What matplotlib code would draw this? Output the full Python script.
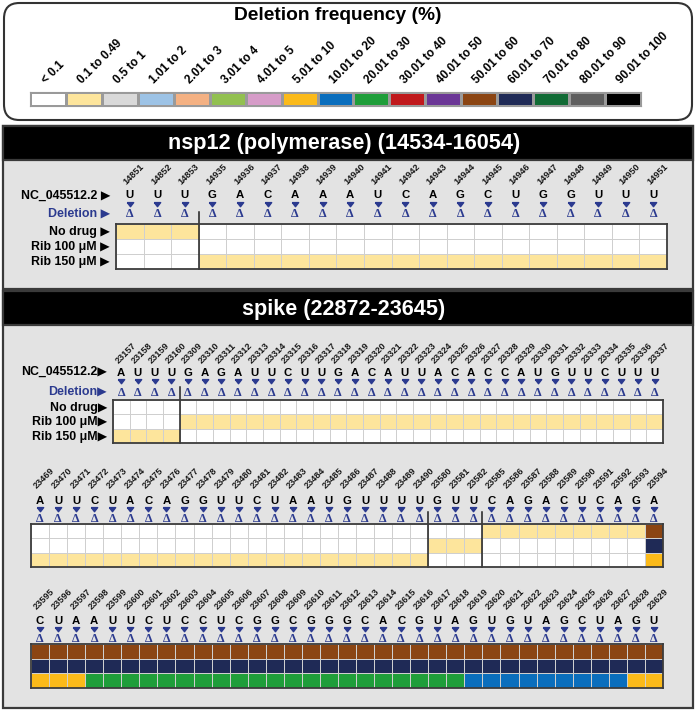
import matplotlib
matplotlib.use('Agg')
import matplotlib.pyplot as plt
from matplotlib.patches import FancyBboxPatch, Rectangle
from matplotlib.colors import ListedColormap, BoundaryNorm
from matplotlib.transforms import blended_transform_factory, ScaledTranslation
import numpy as np

# ---------------- data ----------------
legend_labels = ["< 0.1", "0.1 to 0.49", "0.5 to 1", "1.01 to 2", "2.01 to 3", "3.01 to 4",
                 "4.01 to 5", "5.01 to 10", "10.01 to 20", "20.01 to 30", "30.01 to 40",
                 "40.01 to 50", "50.01 to 60", "60.01 to 70", "70.01 to 80", "80.01 to 90",
                 "90.01 to 100"]
legend_colors = ["#FFFFFF", "#FDE59C", "#D9D9D9", "#9DC3E6", "#F4B183", "#92C050",
                 "#D69CC8", "#FBBA1A", "#0A6EBD", "#1F9E3A", "#C0191C", "#6B3696",
                 "#8B4513", "#1F2A56", "#116B35", "#5F5F5F", "#000000"]
row_names = ["No drug", "Rib 100 \u03bcM", "Rib 150 \u03bcM"]

nsp12_pos = [14851, 14852, 14853, 14935, 14936, 14937, 14938, 14939, 14940, 14941,
             14942, 14943, 14944, 14945, 14946, 14947, 14948, 14949, 14950, 14951]
nsp12_seq = "UUUGACAAAUCAGCUGGUUU"
nsp12_nodrug = [1, 1, 1, 0, 0, 0, 0, 0, 0, 0, 0, 0, 0, 0, 0, 0, 0, 0, 0, 0]
nsp12_rib100 = [0, 0, 0, 0, 0, 0, 0, 0, 0, 0, 0, 0, 0, 0, 0, 0, 0, 0, 0, 0]
nsp12_rib150 = [0, 0, 0, 1, 1, 1, 1, 1, 1, 1, 1, 1, 1, 1, 1, 1, 1, 1, 1, 1]

spike1_pos = [23157, 23158, 23159, 23160, 23309, 23310, 23311, 23312, 23313, 23314,
              23315, 23316, 23317, 23318, 23319, 23320, 23321, 23322, 23323, 23324,
              23325, 23326, 23327, 23328, 23329, 23330, 23331, 23332, 23333, 23334,
              23335, 23336, 23337]
spike1_seq = "AUUUGAGAUUCUUGACAUUACACCAUGUUCUUU"
spike1_nodrug = [0, 0, 0, 0, 0, 0, 0, 0, 0, 0, 0, 0, 0, 0, 0, 0, 0, 0, 0, 0, 0, 0, 0, 0, 0, 0, 0, 0, 0, 0, 0, 0, 0]
spike1_rib100 = [0, 0, 0, 0, 1, 1, 1, 1, 1, 1, 1, 1, 1, 1, 1, 1, 1, 1, 1, 1, 1, 1, 1, 1, 1, 1, 1, 1, 1, 1, 1, 1, 1]
spike1_rib150 = [1, 1, 1, 1, 0, 0, 0, 0, 0, 0, 0, 0, 0, 0, 0, 0, 0, 0, 0, 0, 0, 0, 0, 0, 0, 0, 0, 0, 0, 0, 0, 0, 0]

spike2_pos = [23469, 23470, 23471, 23472, 23473, 23474, 23475, 23476, 23477, 23478,
              23479, 23480, 23481, 23482, 23483, 23484, 23485, 23486, 23487, 23488,
              23489, 23490, 23580, 23581, 23582, 23585, 23586, 23587, 23588, 23589,
              23590, 23591, 23592, 23593, 23594]
spike2_seq = "AUUCUACAGGUUCUAAUGUUUUGUUCAGACUCAGA"
spike2_nodrug = [0, 0, 0, 0, 0, 0, 0, 0, 0, 0, 0, 0, 0, 0, 0, 0, 0, 0, 0, 0, 0, 0,
                 0, 0, 0, 1, 1, 1, 1, 1, 1, 1, 1, 1, 12]
spike2_rib100 = [0, 0, 0, 0, 0, 0, 0, 0, 0, 0, 0, 0, 0, 0, 0, 0, 0, 0, 0, 0, 0, 0,
                 1, 1, 1, 0, 0, 0, 0, 0, 0, 0, 0, 0, 13]
spike2_rib150 = [1, 1, 1, 1, 1, 1, 1, 1, 1, 1, 1, 1, 1, 1, 1, 1, 1, 1, 1, 1, 1, 1,
                 0, 0, 0, 0, 0, 0, 0, 0, 0, 0, 0, 0, 7]

spike3_pos = [23595, 23596, 23597, 23598, 23599, 23600, 23601, 23602, 23603, 23604,
              23605, 23606, 23607, 23608, 23609, 23610, 23611, 23612, 23613, 23614,
              23615, 23616, 23617, 23618, 23619, 23620, 23621, 23622, 23623, 23624,
              23625, 23626, 23627, 23628, 23629]
spike3_seq = "CUAAUUCUCCUCGGCGGGCACGUAGUGUAGCUAGU"
spike3_nodrug = [12, 12, 12, 12, 12, 12, 12, 12, 12, 12, 12, 12, 12, 12, 12, 12, 12, 12,
                 12, 12, 12, 12, 12, 12, 12, 12, 12, 12, 12, 12, 12, 12, 12, 12, 12]
spike3_rib100 = [13, 13, 13, 13, 13, 13, 13, 13, 13, 13, 13, 13, 13, 13, 13, 13, 13, 13,
                 13, 13, 13, 13, 13, 13, 13, 13, 13, 13, 13, 13, 13, 13, 13, 13, 13]
spike3_rib150 = [7, 7, 7, 9, 9, 9, 9, 9, 9, 9, 9, 9, 9, 9, 9, 9, 9, 9, 9, 9, 9, 9, 9, 9,
                 8, 8, 8, 8, 8, 8, 8, 8, 8, 7, 7]

# ---------------- setup ----------------
W, H = 696, 710
fig = plt.figure(figsize=(W / 100, H / 100), dpi=100)
fig.patch.set_facecolor('white')
SANS = ['Liberation Sans', 'DejaVu Sans']
BLUE = '#2B3A8F'
cmap = ListedColormap(legend_colors)
norm = BoundaryNorm(np.arange(-0.5, len(legend_colors) + 0.5), len(legend_colors))
TRI = [(-1, 0.6), (1, 0.6), (0, -0.7), (-1, 0.6)]


def fy(y):
    return 1 - y / H


def axrect(x0, y0, x1, y1):
    return [x0 / W, 1 - y1 / H, (x1 - x0) / W, (y1 - y0) / H]


# ---------------- legend ----------------
fig.patches.append(FancyBboxPatch((4 / W, fy(120)), 688 / W, 117 / H,
                                  boxstyle='round,pad=0,rounding_size=0.022',
                                  transform=fig.transFigure, fc='white', ec='#333333', lw=1.5,
                                  zorder=-10))
fig.text(338 / W, fy(15), 'Deletion frequency (%)', ha='center', va='center',
         fontsize=13.8, weight='bold', family=SANS)
lax = fig.add_axes(axrect(30, 92, 641, 106))
lax.pcolormesh(np.arange(len(legend_colors) + 1), [0, 1],
               np.arange(len(legend_colors))[None, :], cmap=cmap, norm=norm,
               edgecolors='#9a9a9a', linewidth=0.8)
lax.set_xlim(0, len(legend_colors)); lax.set_ylim(0, 1)
lax.set_xticks([]); lax.set_yticks([])
for s in lax.spines.values():
    s.set_color('#9a9a9a'); s.set_linewidth(0.8)
ltrans = blended_transform_factory(lax.transData, fig.transFigure) + \
    ScaledTranslation(-2 / 100, 0, fig.dpi_scale_trans)
for i, lab in enumerate(legend_labels):
    lax.text(i + 0.5, fy(84), lab, transform=ltrans, rotation=45, rotation_mode='anchor',
             ha='left', va='baseline', fontsize=8.5, weight='bold', family=SANS, clip_on=False)

# ---------------- panels ----------------
def panel(y0, y1, yh, title, ty):
    fig.patches.append(Rectangle((3 / W, fy(y1)), 690 / W, (y1 - y0) / H,
                                 transform=fig.transFigure, fc='#E3E3E3', ec='#3a3a3a', lw=1.6,
                                 zorder=-10))
    fig.patches.append(Rectangle((3 / W, fy(yh)), 690 / W, (yh - y0) / H,
                                 transform=fig.transFigure, fc='black', ec='#3a3a3a', lw=1.6,
                                 zorder=-9))
    fig.text(344 / W, fy(ty), title, color='white', ha='center', va='center',
             fontsize=15.6, weight='bold', family=SANS)


panel(126, 289, 160, 'nsp12 (polymerase) (14534-16054)', 144)
panel(291, 708, 325, 'spike (22872-23645)', 309)


def grid(rect, positions, seq, rows, dividers, y_letter, y_tri, y_delta, y_pos, div_top,
         pos_off=-3):
    x0, y0, x1, y1 = rect
    ax = fig.add_axes(axrect(x0, y0, x1, y1))
    ax.patch.set_alpha(0)
    data = np.array(rows)
    n = data.shape[1]
    ax.pcolormesh(np.arange(n + 1), np.arange(data.shape[0] + 1), data, cmap=cmap, norm=norm,
                  edgecolors='#cfcfcf', linewidth=0.6)
    ax.set_xlim(0, n); ax.set_ylim(data.shape[0], 0)
    ax.set_xticks([]); ax.set_yticks([])
    for s in ax.spines.values():
        s.set_color('#3c3c3c'); s.set_linewidth(1.3)
    tr = blended_transform_factory(ax.transData, fig.transFigure)
    trp = tr + ScaledTranslation(pos_off / 100, 0, fig.dpi_scale_trans)
    xs = np.arange(n) + 0.5
    # small blue pointer triangles
    ax.plot(xs, [fy(y_tri)] * n, transform=tr, ls='none', marker=TRI, ms=4.6,
            color=BLUE, mec=BLUE, clip_on=False)
    for i, (p, c) in enumerate(zip(positions, seq)):
        # y values are baselines (bottom of glyphs) in pixels
        ax.text(xs[i], fy(y_letter), c, transform=tr, ha='center', va='baseline',
                fontsize=8.2, weight='bold', family=SANS, clip_on=False)
        ax.text(xs[i], fy(y_delta), '\u0394', transform=tr, ha='center', va='baseline',
                fontsize=8.8, weight='bold', color=BLUE, family='Liberation Serif', clip_on=False)
        ax.text(xs[i], fy(y_pos), str(p), transform=trp, rotation=45, rotation_mode='anchor',
                ha='left', va='baseline', fontsize=6.6, weight='bold', color='#1a1a1a',
                family=SANS, clip_on=False)
    for d in dividers:
        ax.plot([d, d], [fy(div_top), fy(y1)], transform=tr, color='#1e1e1e', lw=1.1,
                clip_on=False)
    return ax


def row_labels(xr, ys, sep):
    names = ['NC_045512.2', 'Deletion'] + row_names
    for k, (nm, y) in enumerate(zip(names, ys)):
        fig.text(xr / W, fy(y), nm + sep + '\u25b6', ha='right', va='center', fontsize=8.9,
                 weight='bold', family=SANS, color=BLUE if k == 1 else 'black')


# nsp12
grid((116, 224, 667, 269), nsp12_pos, nsp12_seq,
     [nsp12_nodrug, nsp12_rib100, nsp12_rib150], [3], 198.5, 204.5, 217.5, 185, 212)
row_labels(110, [196, 214, 232, 247, 262], ' ')

# spike row 1
grid((113, 400, 663, 443), spike1_pos, spike1_seq,
     [spike1_nodrug, spike1_rib100, spike1_rib150], [4], 376.5, 381.5, 396.5, 364, 387)
row_labels(107, [372, 392, 408, 422, 437], '')

# spike row 2
grid((31, 524, 663, 567), spike2_pos, spike2_seq,
     [spike2_nodrug, spike2_rib100, spike2_rib150], [22, 25], 503.5, 509, 521.5, 489, 512)

# spike row 3
grid((31, 644, 663, 688), spike3_pos, spike3_seq,
     [spike3_nodrug, spike3_rib100, spike3_rib150], [], 623.5, 629, 641.5, 610, 640)

fig.savefig('out.png', dpi=100)
